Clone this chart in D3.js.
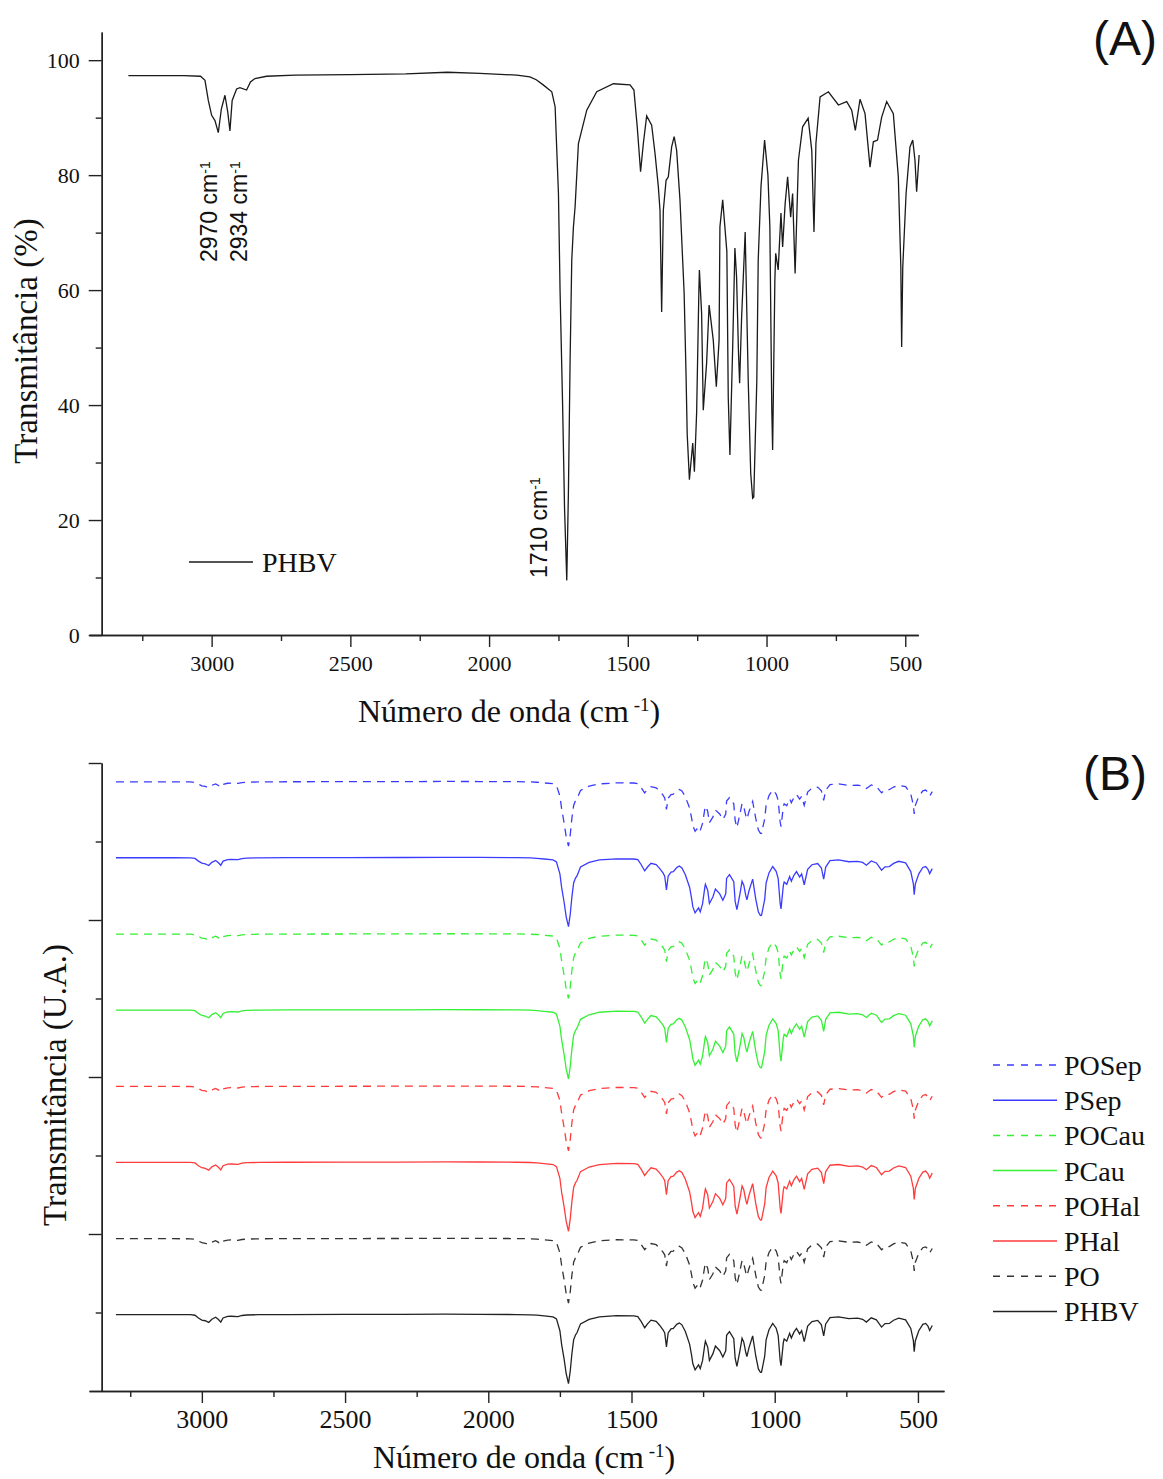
<!DOCTYPE html>
<html>
<head>
<meta charset="utf-8">
<script src="https://cdn.jsdelivr.net/npm/d3@7"></script>
<style>
  body { margin: 0; background: #fff; }
  text { fill: #111; }
</style>
</head>
<body>
<div id="chart"></div>
<script>
// wavenumbers (cm-1), high to low
var wn = [3300,3100,3040,3024,3012,3000,2988,2976,2965,2952,2942,2934,2926,2910,2898,2874,2860,2844,2802,2700,
  2500,2300,2150,2033,1900,1853,1830,1805,1774,1762,1750,1744,1735,1728,1720,1714,1708,1702,1696,1690,
  1678,1648,1612,1552,1492,1478,1466,1454,1444,1432,1414,1402,1390,1384,1378,1372,1362,1354,1342,1333,
  1324,1312,1297,1290,1286,1278,1266,1260,1252,1244,1242,1234,1228,1216,1207,1192,1181,1171,1168,1158,
  1143,1138,1132,1122,1114,1108,1101,1097,1090,1077,1066,1057,1050,1046,1035,1030,1020,1007,995,988,
  981,978,970,967,958,948,942,933,924,913,906,897,885,870,850,837,829,822,807,777,
  741,711,693,680,663,645,627,615,600,585,567,543,525,516,513,509,497,483,473,465,459,450];

// PHBV transmittance (%), panel A (same sample shown at the bottom of panel B)
var tPHBV = [97.3,97.3,97.2,96.5,93.0,90.4,89.5,87.4,91.5,93.9,91.0,87.7,93.0,95.0,95.2,94.8,96.2,96.8,97.2,97.4,
  97.5,97.6,97.9,97.7,97.4,97.1,96.6,95.7,94.5,91.9,76.8,59.5,40.0,22.0,9.5,25.0,47.8,65.2,71.0,74.5,
  85.5,91.3,94.5,95.9,95.7,94.8,88.4,80.6,85.5,90.3,88.7,83.8,78.0,73.9,56.2,73.9,79.1,79.7,84.9,86.7,
  84.3,75.7,59.5,45.0,35.0,27.0,33.4,28.4,38.6,59.5,63.5,56.0,39.1,47.3,57.4,51.3,43.2,51.3,71.0,75.7,
  66.7,41.4,31.3,50.1,67.3,62.3,49.0,43.8,55.0,70.1,44.3,28.1,23.8,24.0,44.3,65.2,78.0,86.1,80.0,71.0,
  39.1,32.2,61.7,66.4,63.5,73.4,67.5,75.0,79.7,72.7,76.8,62.9,82.6,88.4,89.9,84.3,70.1,85.5,93.6,94.5,
  92.2,92.8,91.3,87.8,93.2,90.7,81.4,85.8,86.1,90.1,92.8,90.7,79.7,64.1,50.1,64.0,76.8,84.9,86.1,82.6,77.1,83.5];

// dashed "PO" films, panel B (shallower bands)
var tPO = [97.0,97.0,96.9,96.3,94.0,92.0,91.2,89.5,92.6,94.4,92.3,90.0,93.8,95.2,95.4,95.0,96.0,96.5,96.9,97.1,
  97.2,97.3,97.5,97.4,97.2,96.9,96.5,95.6,94.6,92.3,79.0,63.0,44.0,27.0,15.0,29.0,51.0,67.0,72.5,76.0,
  86.0,91.5,94.4,95.7,95.5,94.7,89.5,83.0,87.0,90.8,89.4,85.2,80.0,76.5,62.0,76.0,80.8,81.3,85.8,87.4,
  85.3,78.0,63.5,50.5,41.5,34.0,39.5,35.0,44.0,62.5,66.0,59.5,45.0,52.0,61.0,56.0,49.0,56.0,72.5,77.0,
  69.0,47.5,38.5,55.0,69.5,65.0,54.0,49.5,59.0,72.0,50.0,35.5,31.5,31.5,50.0,67.5,79.5,86.5,81.5,73.5,
  46.0,40.0,65.0,69.0,66.5,75.5,70.5,77.0,81.0,75.0,78.5,67.0,84.0,89.0,90.3,85.5,73.5,86.5,93.4,94.3,
  92.4,92.8,91.6,88.6,93.0,91.0,83.0,86.8,87.0,90.4,92.6,91.0,81.5,67.5,56.0,67.0,78.5,85.5,86.6,83.8,79.0,84.5];

var seriesNames = ["POSep", "PSep", "POCau", "PCau", "POHal", "PHal", "PO", "PHBV"];
var seriesColors = ["#3b3bff", "#3b3bff", "#35f035", "#35f035", "#ff3b3b", "#ff3b3b", "#333", "#222"];
var seriesDashed = [true, false, true, false, true, false, true, false];
var seriesOffset = [679, 582, 485, 388, 291, 194, 97, 0];

var xTicks = [3000, 2500, 2000, 1500, 1000, 500];
var xMinor = [3250, 2750, 2250, 1750, 1250, 750];
var yTicksA = [0, 20, 40, 60, 80, 100];
var yMinorA = [10, 30, 50, 70, 90];
var yTicksB = [200, 400, 600, 800];
var yMinorB = [100, 300, 500, 700];

var serif = "'Liberation Serif','Times New Roman',serif";
var sans = "'Liberation Sans',Arial,sans-serif";
var fmt = d3.format("d");

var svg = d3.select("#chart").append("svg")
    .attr("width", 1163)
    .attr("height", 1479);

function pts(t, off) {
  return wn.map(function(w, i) { return [w, t[i] + off]; });
}

function axisStyle(g) {
  g.selectAll("path, line").attr("stroke", "#222").attr("stroke-width", 1.4);
  g.selectAll("text").attr("fill", "#111");
}

// ---------- panel A ----------
var xA = d3.scaleLinear().domain([3442, 453]).range([89, 918.3]);
var yA = d3.scaleLinear().domain([0, 104.9]).range([635, 32]);

svg.append("g")
    .attr("transform", "translate(0,635)")
    .call(d3.axisBottom(xA).tickValues(xMinor).tickSize(6).tickSizeOuter(0).tickFormat(""))
    .call(axisStyle);
svg.append("g")
    .attr("transform", "translate(0,635)")
    .call(d3.axisBottom(xA).tickValues(xTicks).tickSize(12).tickSizeOuter(0).tickPadding(8).tickFormat(fmt))
    .call(axisStyle)
    .selectAll("text").style("font-family", serif).style("font-size", "22px");

svg.append("g")
    .attr("transform", "translate(101.7,0)")
    .call(d3.axisLeft(yA).tickValues(yMinorA).tickSize(6).tickSizeOuter(0).tickFormat(""))
    .call(axisStyle);
svg.append("g")
    .attr("transform", "translate(101.7,0)")
    .call(d3.axisLeft(yA).tickValues(yTicksA).tickSize(13).tickSizeOuter(0).tickPadding(9).tickFormat(fmt))
    .call(axisStyle)
    .selectAll("text").style("font-family", serif).style("font-size", "22px");

var lineA = d3.line().x(function(d) { return xA(d[0]); }).y(function(d) { return yA(d[1]); });

svg.append("path")
    .datum(pts(tPHBV, 0))
    .attr("fill", "none")
    .attr("stroke", "#1a1a1a")
    .attr("stroke-width", 1.3)
    .attr("d", lineA);

// band labels
var bands = [{w: 2970, x: 217, y: 262}, {w: 2934, x: 246.5, y: 262}, {w: 1710, x: 547, y: 578}];
bands.forEach(function(b) {
  var t = svg.append("text")
      .attr("transform", "translate(" + b.x + "," + b.y + ") rotate(-90)")
      .style("font-family", sans)
      .style("font-size", "23px")
      .text(b.w + " cm");
  t.append("tspan").attr("dy", "-0.5em").style("font-size", "14px").text("-1");
});

// legend A
svg.append("line").attr("x1", 189).attr("x2", 253).attr("y1", 562).attr("y2", 562)
    .attr("stroke", "#1a1a1a").attr("stroke-width", 1.3);
svg.append("text").attr("x", 262).attr("y", 572)
    .style("font-family", serif).style("font-size", "28px").text("PHBV");

function xTitle(cx, by) {
  var t = svg.append("text")
      .attr("x", cx).attr("y", by)
      .attr("text-anchor", "middle")
      .style("font-family", serif).style("font-size", "32px")
      .text("Número de onda (cm");
  t.append("tspan").attr("dy", "-0.6em").style("font-size", "19px").text(" -1");
  t.append("tspan").attr("dy", "0.35em").text(")");
}
xTitle(509, 722);

svg.append("text")
    .attr("transform", "translate(37,341) rotate(-90)")
    .attr("text-anchor", "middle")
    .style("font-family", serif).style("font-size", "33px")
    .text("Transmitância (%)");

svg.append("text").attr("x", 1093).attr("y", 55)
    .style("font-family", sans).style("font-size", "48px").text("(A)");

// ---------- panel B ----------
var xB = d3.scaleLinear().domain([3394, 409]).range([89, 944]);
var yB = d3.scaleLinear().domain([0, 800]).range([1391, 763]);

svg.append("g")
    .attr("transform", "translate(0,1391)")
    .call(d3.axisBottom(xB).tickValues(xMinor).tickSize(6).tickSizeOuter(0).tickFormat(""))
    .call(axisStyle);
svg.append("g")
    .attr("transform", "translate(0,1391)")
    .call(d3.axisBottom(xB).tickValues(xTicks).tickSize(12).tickSizeOuter(0).tickPadding(7).tickFormat(fmt))
    .call(axisStyle)
    .selectAll("text").style("font-family", serif).style("font-size", "26px");

svg.append("g")
    .attr("transform", "translate(101.7,0)")
    .call(d3.axisLeft(yB).tickValues(yMinorB).tickSize(6).tickSizeOuter(0).tickFormat(""))
    .call(axisStyle);
svg.append("g")
    .attr("transform", "translate(101.7,0)")
    .call(d3.axisLeft(yB).tickValues(yTicksB).tickSize(13).tickSizeOuter(0).tickFormat(""))
    .call(axisStyle);

var lineB = d3.line().x(function(d) { return xB(d[0]); }).y(function(d) { return yB(d[1]); });

seriesNames.forEach(function(name, i) {
  var t = seriesDashed[i] ? tPO : tPHBV;
  svg.append("path")
      .datum(pts(t, seriesOffset[i]))
      .attr("fill", "none")
      .attr("stroke", seriesColors[i])
      .attr("stroke-width", 1.3)
      .attr("stroke-dasharray", seriesDashed[i] ? "8,6" : null)
      .attr("d", lineB);
});

// legend B
var leg = svg.append("g").selectAll("g")
    .data(seriesNames)
    .enter().append("g")
    .attr("transform", function(d, i) { return "translate(0," + (1065 + i * 35.2) + ")"; });

leg.append("line")
    .attr("x1", 993).attr("x2", 1057)
    .attr("stroke", function(d, i) { return seriesColors[i]; })
    .attr("stroke-width", 1.5)
    .attr("stroke-dasharray", function(d, i) { return seriesDashed[i] ? "7,7" : null; });

leg.append("text")
    .attr("x", 1064).attr("y", 10)
    .style("font-family", serif).style("font-size", "28px")
    .text(function(d) { return d; });

xTitle(524, 1468);

svg.append("text")
    .attr("transform", "translate(66,1085) rotate(-90)")
    .attr("text-anchor", "middle")
    .style("font-family", serif).style("font-size", "33px")
    .text("Transmitância (U.A.)");

svg.append("text").attr("x", 1083).attr("y", 790)
    .style("font-family", sans).style("font-size", "48px").text("(B)");
</script>
</body>
</html>
